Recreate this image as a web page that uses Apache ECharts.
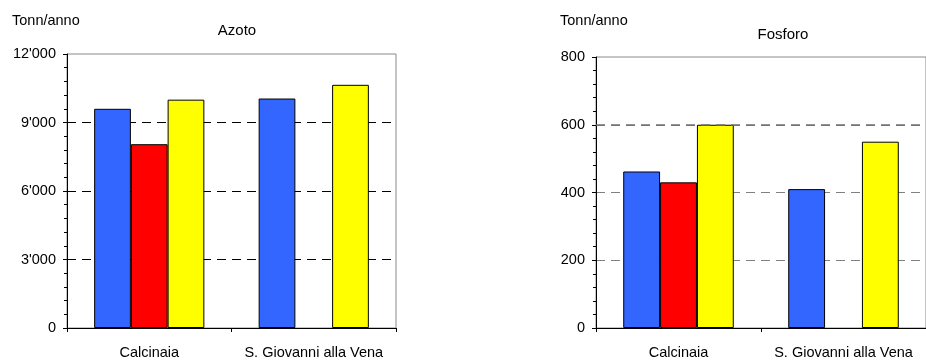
<!DOCTYPE html>
<html>
<head>
<meta charset="utf-8">
<script src="https://cdn.jsdelivr.net/npm/echarts@6/dist/echarts.min.js"></script>
<style>
html,body{margin:0;padding:0;background:#fff;}
#chart{width:926px;height:360px;}
</style>
</head>
<body>
<div id="chart"></div>
<script>
const categories = ['Calcinaia', 'S. Giovanni alla Vena'];
const azotoBlue = [9600, 10050];
const azotoRed = [8050, null];
const azotoYellow = [10000, 10650];
const fosforoBlue = [462, 410];
const fosforoRed = [430, null];
const fosforoYellow = [600, 550];
const azotoTicks = {min: 0, max: 12000, interval: 3000};
const fosforoTicks = {min: 0, max: 800, interval: 200};
const fosforoStrongLine = 600;

const FONT = '"Liberation Sans", Arial, sans-serif';
const FS = 14.5;
const colors = {blue: '#3366FF', red: '#FF0000', yellow: '#FFFF00'};

function fmt(v) {
  return String(v).replace(/\B(?=(\d{3})+(?!\d))/g, "'");
}

function xAxis(gi) {
  return {
    type: 'category', gridIndex: gi, data: categories,
    axisLine: {lineStyle: {color: '#000', width: 1}},
    axisTick: {show: true, length: 4, lineStyle: {color: '#000'}},
    axisLabel: {color: '#000', fontFamily: FONT, fontSize: FS, margin: 17, interval: 0},
    splitLine: {show: false}
  };
}
function yAxis(gi, t, gridColor) {
  return {
    type: 'value', gridIndex: gi, min: t.min, max: t.max, interval: t.interval,
    axisLine: {show: true, lineStyle: {color: '#000', width: 1}},
    axisTick: {show: true, length: 4, lineStyle: {color: '#000'}},
    minorTick: {show: true, splitNumber: 5, length: 3, lineStyle: {color: '#000'}},
    axisLabel: {color: '#000', fontFamily: FONT, fontSize: FS, margin: 11, formatter: fmt},
    splitLine: {show: true, showMinLine: false, showMaxLine: false,
      lineStyle: {color: gridColor, type: [9, 6], width: 1}}
  };
}
function bar(name, data, color, gi) {
  return {
    name: name, type: 'bar', xAxisIndex: gi, yAxisIndex: gi, data: data,
    barGap: 0, barCategoryGap: '33%',
    itemStyle: {color: color, borderColor: '#000', borderWidth: 1},
    emphasis: {disabled: true}, animation: false
  };
}

const f3 = bar('F3', fosforoYellow, colors.yellow, 1);
f3.markLine = {
  silent: true, symbol: 'none', animation: false,
  label: {show: false},
  lineStyle: {color: '#707070', type: [9, 6], width: 1.5},
  data: [{yAxis: fosforoStrongLine}]
};

const chart = echarts.init(document.getElementById('chart'), null, {renderer: 'canvas'});
chart.setOption({
  animation: false,
  backgroundColor: '#fff',
  textStyle: {fontFamily: FONT},
  title: [
    {text: 'Tonn/anno', left: 12, top: 13, textStyle: {fontFamily: FONT, fontSize: FS, fontWeight: 'normal', color: '#000'}, padding: 0},
    {text: 'Azoto', left: 237, top: 23, textAlign: 'center', textStyle: {fontFamily: FONT, fontSize: 15, fontWeight: 'normal', color: '#000'}, padding: 0},
    {text: 'Tonn/anno', left: 560, top: 13, textStyle: {fontFamily: FONT, fontSize: FS, fontWeight: 'normal', color: '#000'}, padding: 0},
    {text: 'Fosforo', left: 783, top: 27, textAlign: 'center', textStyle: {fontFamily: FONT, fontSize: 15, fontWeight: 'normal', color: '#000'}, padding: 0}
  ],
  grid: [
    {left: 67, top: 54, width: 329, height: 278, show: true, borderColor: '#8a8a8a', borderWidth: 1, backgroundColor: 'transparent', containLabel: false},
    {left: 596, top: 57, width: 339, height: 276.5, show: true, borderColor: '#8a8a8a', borderWidth: 1, backgroundColor: 'transparent', containLabel: false}
  ],
  xAxis: [xAxis(0), xAxis(1)],
  yAxis: [yAxis(0, azotoTicks, '#000'), yAxis(1, fosforoTicks, '#808080')],
  series: [
    bar('A1', azotoBlue, colors.blue, 0),
    bar('A2', azotoRed, colors.red, 0),
    bar('A3', azotoYellow, colors.yellow, 0),
    bar('F1', fosforoBlue, colors.blue, 1),
    bar('F2', fosforoRed, colors.red, 1),
    f3
  ]
});
</script>
</body>
</html>
